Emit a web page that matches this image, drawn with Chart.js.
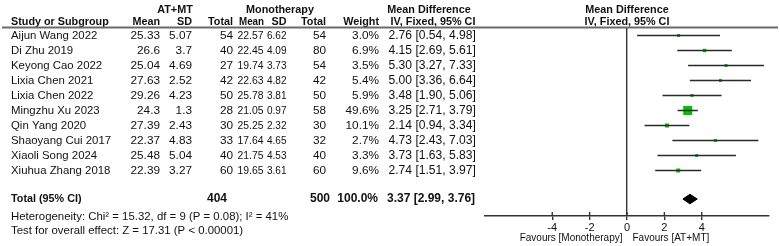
<!DOCTYPE html>
<html>
<head>
<meta charset="utf-8">
<script src="https://cdn.jsdelivr.net/npm/chart.js@4.4.1/dist/chart.umd.min.js"></script>
<style>
  body { margin: 0; background: #fff; }
</style>
</head>
<body>
<canvas id="forest" width="780" height="246"></canvas>
<script>
// study data
const studies = ['Aijun Wang 2022', 'Di Zhu 2019', 'Keyong Cao 2022', 'Lixia Chen 2021', 'Lixia Chen 2022',
  'Mingzhu Xu 2023', 'Qin Yang 2020', 'Shaoyang Cui 2017', 'Xiaoli Song 2024', 'Xiuhua Zhang 2018'];
const atMean = [25.33, 26.6, 25.04, 27.63, 29.26, 24.3, 27.39, 22.37, 25.48, 22.39];
const atSD = [5.07, 3.7, 4.69, 2.52, 4.23, 1.3, 2.43, 4.83, 5.04, 3.27];
const atN = [54, 40, 27, 42, 50, 28, 30, 33, 40, 60];
const moMean = [22.57, 22.45, 19.74, 22.63, 25.78, 21.05, 25.25, 17.64, 21.75, 19.65];
const moSD = [6.62, 4.09, 3.73, 4.82, 3.81, 0.97, 2.32, 4.65, 4.53, 3.61];
const moN = [54, 80, 54, 42, 50, 58, 30, 32, 40, 60];
const weight = [3.0, 6.9, 3.5, 5.4, 5.9, 49.6, 10.1, 2.7, 3.3, 9.6];
const md = [2.76, 4.15, 5.30, 5.00, 3.48, 3.25, 2.14, 4.73, 3.73, 2.74];
const ciLow = [0.54, 2.69, 3.27, 3.36, 1.90, 2.71, 0.94, 2.43, 1.63, 1.51];
const ciHigh = [4.98, 5.61, 7.33, 6.64, 5.06, 3.79, 3.34, 7.03, 5.83, 3.97];

// pooled result
const totalAtN = 404;
const totalMoN = 500;
const totalWeight = 100.0;
const totalMd = 3.37;
const totalLow = 2.99;
const totalHigh = 3.76;
const heterogeneity = 'Heterogeneity: Chi\u00b2 = 15.32, df = 9 (P = 0.08); I\u00b2 = 41%';
const overallTest = 'Test for overall effect: Z = 17.31 (P < 0.00001)';

const tickValues = [-4, -2, 0, 2, 4];

const totalRow = 10.9;
const FONT = 'Liberation Sans, Arial, sans-serif';
const INK = '#111';

// CI segments, broken by null points
const ciPoints = [];
studies.forEach((s, i) => {
  ciPoints.push({x: ciLow[i], y: i}, {x: ciHigh[i], y: i}, {x: null, y: null});
});

const fmtCI = (m, l, h) => m.toFixed(2) + ' [' + l.toFixed(2) + ', ' + h.toFixed(2) + ']';

const tablePlugin = {
  id: 'forestTable',
  afterDraw(chart) {
    const ctx = chart.ctx;
    const ys = chart.scales.y;
    const xs = chart.scales.x;
    const py = v => ys.getPixelForValue(v);

    function txt(s, x, y, align, font, maxW) {
      ctx.font = font;
      ctx.textAlign = align;
      ctx.textBaseline = 'middle';
      ctx.fillStyle = INK;
      if (maxW) ctx.fillText(String(s), x, y, maxW);
      else ctx.fillText(String(s), x, y);
    }
    const reg = '11.4px ' + FONT;
    const num = '11.8px ' + FONT;
    const numCI = '12.1px ' + FONT;
    const bold = 'bold 10.8px ' + FONT;
    const boldNum = 'bold 12px ' + FONT;
    const small = '10px ' + FONT;

    ctx.save();
    // header
    const h1 = py(-1.7), h2 = py(-0.9);
    txt('AT+MT', 175, h1, 'center', bold);
    txt('Monotherapy', 280, h1, 'center', bold);
    txt('Mean Difference', 429, h1, 'center', bold);
    txt('Mean Difference', xs.getPixelForValue(0), h1, 'center', bold);
    txt('Study or Subgroup', 11, h2, 'left', bold);
    txt('Mean', 160, h2, 'right', bold);
    txt('SD', 192, h2, 'right', bold);
    txt('Total', 233, h2, 'right', bold);
    txt('Mean', 264, h2, 'right', bold, 25);
    txt('SD', 286.5, h2, 'right', bold);
    txt('Total', 326, h2, 'right', bold);
    txt('Weight', 379, h2, 'right', bold);
    txt('IV, Fixed, 95% CI', 433, h2, 'center', bold);
    txt('IV, Fixed, 95% CI', xs.getPixelForValue(0), h2, 'center', bold);

    ctx.strokeStyle = '#6a6a6a';
    ctx.lineWidth = 2;
    ctx.beginPath();
    ctx.moveTo(2, 27.5);
    ctx.lineTo(778, 27.5);
    ctx.stroke();

    // study rows
    studies.forEach((s, i) => {
      const y = py(i);
      txt(s, 11, y, 'left', reg);
      txt(atMean[i], 160, y, 'right', num);
      txt(atSD[i], 192, y, 'right', num);
      txt(atN[i], 233, y, 'right', num);
      txt(moMean[i], 263.5, y, 'right', num, 26);
      txt(moSD[i], 286.5, y, 'right', num, 19.5);
      txt(moN[i], 326, y, 'right', num);
      txt(weight[i].toFixed(1) + '%', 379, y, 'right', num);
      txt(fmtCI(md[i], ciLow[i], ciHigh[i]), 388.5, y, 'left', numCI);
    });

    // total row
    const ty = py(totalRow);
    txt('Total (95% CI)', 11, ty, 'left', bold);
    txt(totalAtN, 227, ty, 'right', boldNum);
    txt(totalMoN, 330, ty, 'right', boldNum);
    txt(totalWeight.toFixed(1) + '%', 378, ty, 'right', boldNum);
    txt(fmtCI(totalMd, totalLow, totalHigh), 387, ty, 'left', boldNum);

    txt(heterogeneity, 11, py(12.08), 'left', reg);
    txt(overallTest, 11, py(13.03), 'left', reg);

    // favours labels
    const zx = xs.getPixelForValue(0);
    txt('Favours [Monotherapy]', zx - 4.5, 238.5, 'right', small);
    txt('Favours [AT+MT]', zx + 5.5, 238.5, 'left', small);

    // tick marks also cross above the axis
    ctx.strokeStyle = '#333';
    ctx.lineWidth = 1.4;
    tickValues.forEach(v => {
      const x = xs.getPixelForValue(v);
      ctx.beginPath();
      ctx.moveTo(x, chart.chartArea.bottom - 4);
      ctx.lineTo(x, chart.chartArea.bottom);
      ctx.stroke();
    });
    ctx.restore();
  }
};

new Chart(document.getElementById('forest'), {
  type: 'scatter',
  data: {
    datasets: [
      {
        data: ciPoints,
        showLine: true,
        spanGaps: false,
        borderColor: '#2a2a2a',
        borderWidth: 1.5,
        pointRadius: 0
      },
      {
        data: md.map((m, i) => ({x: m, y: i})),
        pointStyle: 'rect',
        pointRadius: ctx => Math.max(3, 1.28 * Math.sqrt(weight[ctx.dataIndex] || 0)) / Math.SQRT2,
        backgroundColor: '#00c000',
        borderWidth: 0
      },
      {
        data: [
          {x: totalLow, y: totalRow},
          {x: totalMd, y: totalRow - 0.32},
          {x: totalHigh, y: totalRow},
          {x: totalMd, y: totalRow + 0.32},
          {x: totalLow, y: totalRow}
        ],
        showLine: true,
        fill: 'shape',
        backgroundColor: '#000',
        borderColor: '#000',
        borderWidth: 1,
        pointRadius: 0,
        tension: 0
      }
    ]
  },
  options: {
    responsive: false,
    animation: false,
    layout: { padding: { left: 485, right: 11, top: 27.5, bottom: 0 } },
    plugins: {
      legend: { display: false },
      tooltip: { enabled: false }
    },
    scales: {
      x: {
        type: 'linear',
        min: -7.6,
        max: 7.6,
        afterBuildTicks: s => { s.ticks = tickValues.map(v => ({value: v})); },
        afterFit: s => { s.height = 30; },
        grid: {
          color: c => (c.tick && c.tick.value === 0) ? '#333' : 'rgba(0,0,0,0)',
          lineWidth: 1.4,
          tickColor: '#333',
          tickLength: 4,
          tickWidth: 1.4
        },
        border: { display: true, color: '#333', width: 1.5 },
        ticks: {
          color: INK,
          padding: 1,
          font: { family: FONT, size: 11 },
          maxRotation: 0
        }
      },
      y: {
        type: 'linear',
        display: false,
        reverse: true,
        min: -0.53,
        max: 12.03
      }
    }
  },
  plugins: [tablePlugin]
});
</script>
</body>
</html>
